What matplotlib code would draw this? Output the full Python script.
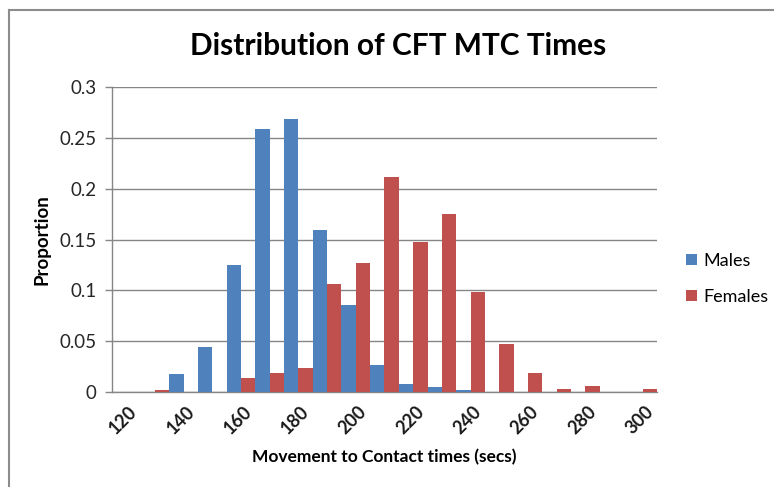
import matplotlib
matplotlib.use("Agg")
import matplotlib.pyplot as plt
from matplotlib.lines import Line2D
import matplotlib.transforms as mtransforms
import numpy as np

categories = [120, 130, 140, 150, 160, 170, 180, 190, 200, 210,
              220, 230, 240, 250, 260, 270, 280, 290, 300]
males = [0, 0, 0.018, 0.044, 0.125, 0.259, 0.269, 0.159, 0.086, 0.027,
         0.008, 0.005, 0.002, 0, 0, 0, 0, 0, 0]
females = [0, 0.002, 0, 0, 0.014, 0.019, 0.024, 0.106, 0.127, 0.211,
           0.148, 0.175, 0.098, 0.047, 0.019, 0.003, 0.006, 0, 0.003]
y_ticks = [0, 0.05, 0.1, 0.15, 0.2, 0.25, 0.3]
y_tick_labels = ["0", "0.05", "0.1", "0.15", "0.2", "0.25", "0.3"]
series_names = ["Males", "Females"]
title = "Distribution of CFT MTC Times"
xlabel = "Movement to Contact times (secs)"
ylabel = "Proportion"

plt.rcParams['font.family'] = ['Lato', 'DejaVu Sans']

W, H = 774, 487
fig = plt.figure(figsize=(W / 100, H / 100), dpi=100)
ax = fig.add_axes([112 / W, 1 - 392 / H, (657 - 112) / W, (392 - 87) / H])

blue = "#4F81BD"
red = "#C0504D"
grid = "#868686"

x = np.arange(len(categories))
bw = 0.5
ax.bar(x - bw / 2, males, width=bw, color=blue, label=series_names[0], zorder=3)
ax.bar(x + bw / 2, females, width=bw, color=red, label=series_names[1], zorder=3)

ax.set_xlim(-0.5, len(categories) - 0.5)
ax.set_ylim(0, 0.3)
ax.set_yticks(y_ticks)
ax.set_yticklabels(y_tick_labels, fontsize=13.5, color="#262626")
ax.yaxis.grid(True, color=grid, linewidth=1.0, zorder=0)
ax.tick_params(axis='y', length=5, width=1, color=grid, pad=6, direction='out')

shown = [i for i, c in enumerate(categories) if (c - categories[0]) % 20 == 0]
ax.set_xticks([x[i] for i in shown])
ax.set_xticklabels([str(categories[i]) for i in shown], rotation=45,
                   ha='right', va='top', rotation_mode='anchor',
                   fontsize=13, fontweight='bold', color="#1a1a1a")
ax.tick_params(axis='x', length=0, pad=8)
offset = mtransforms.ScaledTranslation(2 / 100, 0, fig.dpi_scale_trans)
for lbl in ax.get_xticklabels():
    lbl.set_transform(lbl.get_transform() + offset)

for s in ["top", "right"]:
    ax.spines[s].set_visible(False)
for s in ["left", "bottom"]:
    ax.spines[s].set_color(grid)
    ax.spines[s].set_linewidth(1.0)

ax.set_xlabel(xlabel, fontsize=12.5, fontweight='bold')
ax.xaxis.set_label_coords(0.5, (392 - 457) / 305, transform=ax.transAxes)
ax.xaxis.label.set_va('center')
ax.set_ylabel(ylabel, fontsize=13.5, fontweight='bold')
ax.yaxis.set_label_coords((42 - 112) / 545, 0.5, transform=ax.transAxes)
ax.yaxis.label.set_va('center')

fig.text(398 / W, 1 - 46 / H, title, fontsize=21.5, fontweight='bold',
         ha='center', va='center', color="#000000")

leg = fig.legend(loc='center left', bbox_to_anchor=(686 / W, 1 - 279 / H),
                 frameon=False, fontsize=13, handlelength=0.6, handleheight=0.6,
                 handletextpad=0.35, labelspacing=1.1, borderpad=0, borderaxespad=0)

# chart border (top and left visible)
fig.add_artist(Line2D([9 / W, 1], [1 - 10 / H, 1 - 10 / H], color="#8c8c8c", linewidth=1.5,
                      transform=fig.transFigure))
fig.add_artist(Line2D([9 / W, 9 / W], [0, 1 - 10 / H], color="#8c8c8c", linewidth=1.5,
                      transform=fig.transFigure))

fig.savefig("out.png", dpi=100)
